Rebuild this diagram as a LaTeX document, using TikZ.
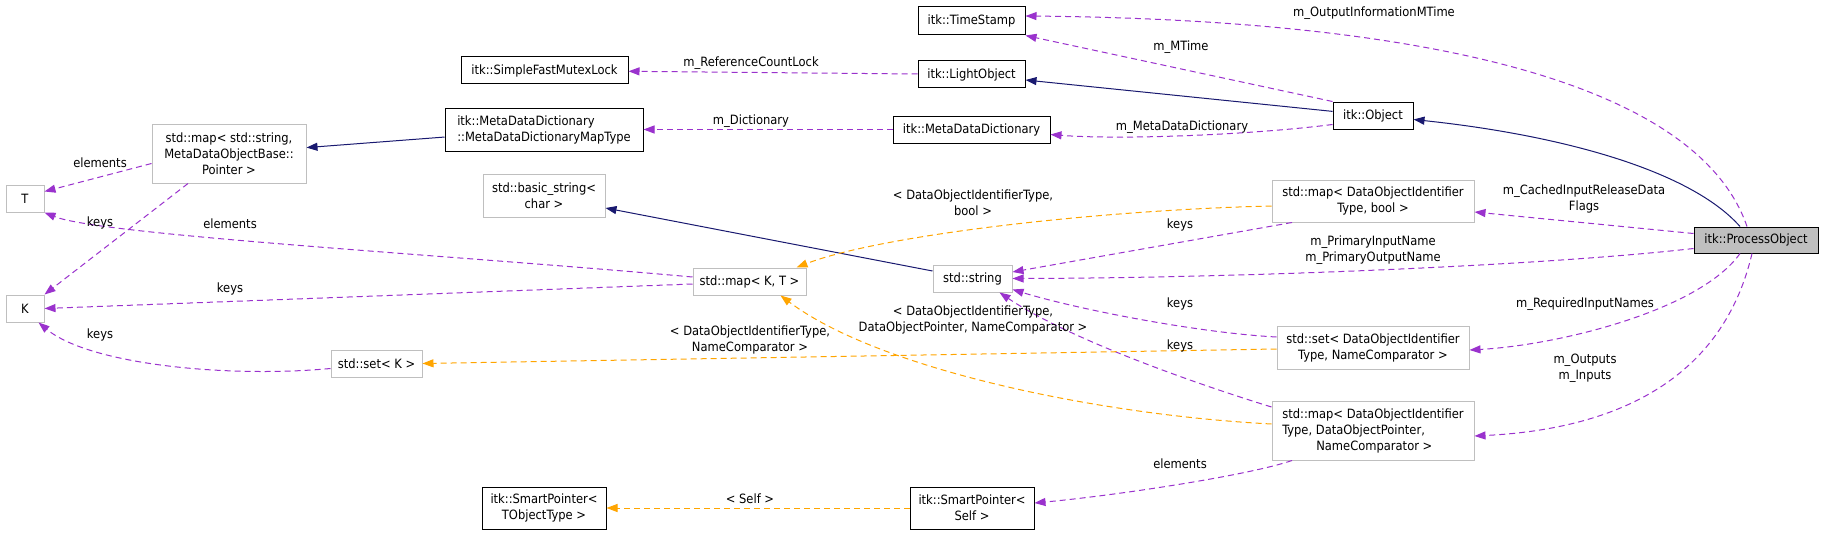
\documentclass[tikz,border=0pt]{standalone}
\usepackage{fontspec}
\setmainfont{DejaVu Sans Condensed}
\usetikzlibrary{arrows.meta}
\definecolor{inhblue}{HTML}{191970}
\definecolor{usepurple}{HTML}{9A32CD}
\definecolor{tplorange}{HTML}{FFA500}
\definecolor{boxgrey}{HTML}{BFBFBF}

\begin{document}
\begin{tikzpicture}[x=1pt, y=-1pt,
      every node/.style={font=\fontsize{12.8}{16}\selectfont, inner sep=0pt},
      cls/.style={draw=black, line width=1pt, fill=white, align=center},
      ext/.style={draw=boxgrey, line width=1pt, fill=white, align=center},
      cur/.style={draw=black, line width=1pt, fill=boxgrey, align=center},
      lbl/.style={align=center},
      inh/.style={-{Triangle[length=11pt,width=8pt]}, line width=1pt, color=inhblue},
      use/.style={-{Triangle[length=11pt,width=8pt]}, line width=1pt, color=usepurple, dash pattern=on 6pt off 4pt},
      tpl/.style={-{Triangle[length=11pt,width=8pt]}, line width=1pt, color=tplorange, dash pattern=on 6pt off 4pt}
    ]
      \fill[white] (0,0) rectangle (1824,535);
      \useasboundingbox (0,0) rectangle (1824,535);
      % classes
      \node[cls, minimum width=107, minimum height=28] (ts) at (971.5,21) {itk::TimeStamp};
      \node[cls, minimum width=107, minimum height=27] (lo) at (971.5,74.5) {itk::LightObject};
      \node[cls, minimum width=167, minimum height=27] (mutex) at (544.5,70.5) {itk::SimpleFastMutexLock};
      \node[cls, minimum width=157, minimum height=27] (mdd) at (971.5,129.5) {itk::MetaDataDictionary};
      \node[cls, minimum width=198, minimum height=43, align=left] (mddmap) at (544,129.5) {itk::MetaDataDictionary\\::MetaDataDictionaryMapType};
      \node[ext, minimum width=154, minimum height=59] (mapstr) at (229,153.5) {std::map< std::string,\\MetaDataObjectBase::\\Pointer >};
      \node[ext, minimum width=38, minimum height=27] (T) at (25,198.5) {T};
      \node[ext, minimum width=38, minimum height=27] (K) at (25,308.5) {K};
      \node[ext, minimum width=122, minimum height=43] (bstr) at (544,195.5) {std::basic\_string<\\char >};
      \node[ext, minimum width=113, minimum height=27] (mapKT) at (749.5,281.5) {std::map< K, T >};
      \node[ext, minimum width=91, minimum height=27] (setK) at (376.5,363.5) {std::set< K >};
      \node[cls, minimum width=124, minimum height=42] (spT) at (544,508) {itk::SmartPointer<\\TObjectType >};
      \node[cls, minimum width=80, minimum height=27] (obj) at (1373,115.5) {itk::Object};
      \node[ext, minimum width=79, minimum height=27] (str) at (972.5,278.5) {std::string};
      \node[ext, minimum width=202, minimum height=42] (mapbool) at (1373,201) {std::map< DataObjectIdentifier\\Type, bool >};
      \node[cur, minimum width=124, minimum height=26] (po) at (1756,240) {itk::ProcessObject};
      \node[ext, minimum width=192, minimum height=43] (setDO) at (1373,347.5) {std::set< DataObjectIdentifier\\Type, NameComparator >};
      \node[ext, minimum width=202, minimum height=59, align=left] (mapDO) at (1373,430.5) {std::map< DataObjectIdentifier\\Type, DataObjectPointer,\\\hspace*{34pt}NameComparator >};
      \node[cls, minimum width=124, minimum height=42] (spS) at (972,508) {itk::SmartPointer<\\Self >};
      % inheritance
      \draw[inh] ([xshift=-16]po.north) .. controls (1690,170) and (1560,135) .. ([yshift=-4]obj.east);
      \draw[inh] (obj) -- (lo);
      \draw[inh] (mddmap) -- (mapstr);
      \draw[inh] ([yshift=7.5]str.west) -- ([yshift=-12.5]bstr.east);
      % members
      \draw[use] (obj.north west) -- (ts.south east);
      \draw[use] ([xshift=-9]po.north) .. controls (1700,90) and (1450,20) .. ([yshift=5]ts.east);
      \draw[use] (lo) -- (mutex);
      \draw[use] ([yshift=-9]obj.west) .. controls (1250,135) and (1120,140) .. ([yshift=-5]mdd.east);
      \draw[use] (mdd) -- (mddmap);
      \draw[use] ([yshift=-10]mapstr.west) -- ([yshift=-7]T.north east);
      \draw[use] ([xshift=-41]mapstr.south) -- (K.north east);
      \draw[use] ([yshift=4.5]mapKT.west) .. controls (450,255) and (100,235) .. (T.south east);
      \draw[use] ([yshift=-2.5]mapKT.west) -- (K.east);
      \draw[use] ([yshift=-5]setK.west) .. controls (230,378) and (90,365) .. ([xshift=-6]K.south east);
      \draw[use] ([xshift=-81]mapbool.south) -- ([yshift=6.5]str.east);
      \draw[use] ([yshift=-8.5]po.west) .. controls (1550,265) and (1250,278) .. (str.east);
      \draw[use] ([yshift=10.5]setDO.west) .. controls (1200,333) and (1080,310) .. ([yshift=3]str.south east);
      \draw[use] ([yshift=23.5]mapDO.west) .. controls (1200,385) and (1070,340) .. ([xshift=27]str.south);
      \draw[use] ([yshift=6.5]po.west) -- ([yshift=-11]mapbool.east);
      \draw[use] ([xshift=-16]po.south) .. controls (1700,310) and (1560,345) .. ([yshift=-2.5]setDO.east);
      \draw[use] ([xshift=-4]po.south) .. controls (1720,390) and (1600,430) .. ([yshift=-5.5]mapDO.east);
      \draw[use] ([xshift=-81]mapDO.south) .. controls (1250,475) and (1120,495) .. ([yshift=5]spS.east);
      % template instances
      \draw[tpl] ([yshift=-1.5]setDO.west) -- (setK.east);
      \draw[tpl] ([yshift=-5]mapbool.west) .. controls (1100,210) and (880,235) .. ([xshift=-10]mapKT.north east);
      \draw[tpl] ([yshift=6.5]mapDO.west) .. controls (1100,415) and (880,370) .. ([xshift=-26]mapKT.south east);
      \draw[tpl] (spS) -- (spT);
      % labels
      \node[lbl] (lOutMTime) at (1374,13) {m\_OutputInformationMTime};
      \node[lbl] (lMTime) at (1181,47) {m\_MTime};
      \node[lbl] (lRefLock) at (751,63) {m\_ReferenceCountLock};
      \node[lbl] (lDict) at (751,121) {m\_Dictionary};
      \node[lbl] (lMDD) at (1182,127) {m\_MetaDataDictionary};
      \node[lbl] (lElemStr) at (100,163) {elements};
      \node[lbl] (lKeysStr) at (100,223) {keys};
      \node[lbl] (lElemKT) at (230,224) {elements};
      \node[lbl] (lKeysKT) at (230,289) {keys};
      \node[lbl] (lKeysSet) at (100,335) {keys};
      \node[lbl] (lSetTpl) at (750,340) {< DataObjectIdentifierType,\\NameComparator >};
      \node[lbl] (lBoolTpl) at (973,203) {< DataObjectIdentifierType,\\bool >};
      \node[lbl] (lPtrTpl) at (973,320) {< DataObjectIdentifierType,\\DataObjectPointer, NameComparator >};
      \node[lbl] (lKeysBool) at (1180,225) {keys};
      \node[lbl] (lPrimary) at (1373,250) {m\_PrimaryInputName\\m\_PrimaryOutputName};
      \node[lbl] (lKeysSetDO) at (1180,304) {keys};
      \node[lbl] (lKeysMapDO) at (1180,346) {keys};
      \node[lbl] (lCached) at (1584,199) {m\_CachedInputReleaseData\\Flags};
      \node[lbl] (lRequired) at (1585,304) {m\_RequiredInputNames};
      \node[lbl] (lInOut) at (1585,368) {m\_Outputs\\m\_Inputs};
      \node[lbl] (lElemDO) at (1180,464) {elements};
      \node[lbl] (lSelf) at (750,499) {< Self >};
    \end{tikzpicture}
\end{document}
